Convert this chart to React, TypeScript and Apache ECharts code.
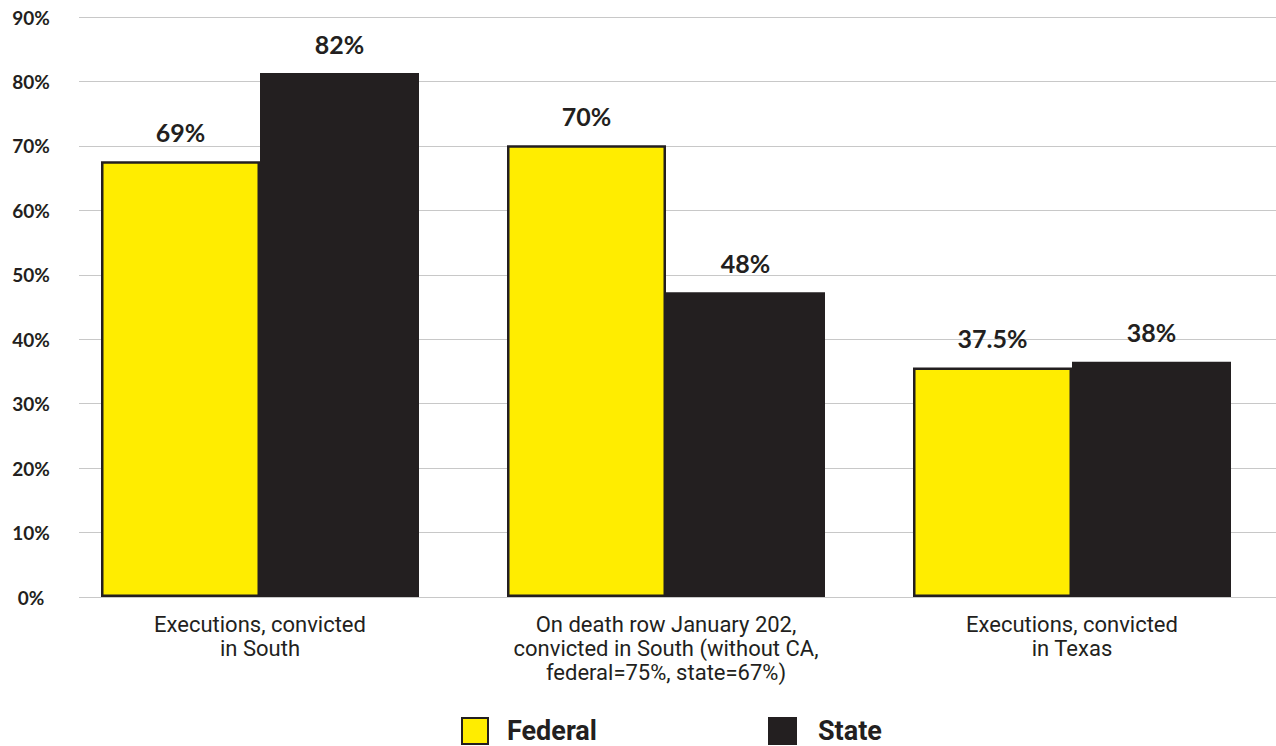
import React, { useEffect, useRef } from "react";
import * as echarts from "echarts";

const categories = [
  "Executions, convicted\nin South",
  "On death row January 202,\nconvicted in South (without CA,\nfederal=75%, state=67%)",
  "Executions, convicted\nin Texas",
];
const federalValues = [67.6, 70.1, 35.6];
const stateValues = [81.3, 47.3, 36.5];
const federalLabels = ["69%", "70%", "37.5%"];
const stateLabels = ["82%", "48%", "38%"];
const yTicks = [0, 10, 20, 30, 40, 50, 60, 70, 80, 90];

const DARK = "#231f20";
const YELLOW = "#ffed00";

export default function App() {
  const ref = useRef<HTMLDivElement>(null);
  useEffect(() => {
    document.body.style.margin = "0";
    const chart = echarts.init(ref.current!, null, { renderer: "svg" });
    const valueLabel = (labels: string[]) => ({
      show: true,
      position: "top",
      distance: 17,
      formatter: (p: any) => labels[p.dataIndex],
      fontFamily: "Lato",
      fontWeight: "bold",
      fontSize: 25,
      color: DARK,
    });
    chart.setOption({
      animation: false,
      backgroundColor: "#ffffff",
      grid: [
        { left: 57, right: 1, top: 17, bottom: 149 },
        { left: 79, right: 0, top: 17, bottom: 149 },
      ],
      xAxis: [
        {
          type: "category",
          gridIndex: 0,
          data: categories,
          axisLine: { show: false },
          axisTick: { show: false },
          axisLabel: {
            margin: 15,
            fontFamily: "Roboto",
            fontSize: 22,
            lineHeight: 24,
            color: DARK,
            interval: 0,
          },
        },
        {
          type: "category",
          gridIndex: 1,
          data: categories,
          show: false,
        },
      ],
      yAxis: [
        {
          type: "value",
          gridIndex: 0,
          min: 0,
          max: 90,
          interval: 10,
          show: false,
          splitLine: { show: false },
        },
        {
          type: "value",
          gridIndex: 1,
          min: yTicks[0],
          max: yTicks[yTicks.length - 1],
          interval: 10,
          axisLine: { show: false },
          axisTick: { show: false },
          splitLine: { lineStyle: { color: "#c8c8c8", width: 1 } },
          axisLabel: {
            formatter: (v: number) => `${v}%`,
            align: "center",
            margin: 48,
            padding: [0, 0, 7, 0],
            fontFamily: "Lato",
            fontWeight: "bold",
            fontSize: 19,
            color: DARK,
          },
        },
      ],
      legend: [
        {
          data: ["Federal"],
          left: 456,
          top: 712,
          icon: "rect",
          itemWidth: 26,
          itemHeight: 26,
          textStyle: {
            fontFamily: "Roboto",
            fontWeight: "bold",
            fontSize: 27,
            color: DARK,
            padding: [0, 0, 0, 14],
          },
        },
        {
          data: ["State"],
          left: 763,
          top: 712,
          icon: "rect",
          itemWidth: 29,
          itemHeight: 28,
          textStyle: {
            fontFamily: "Roboto",
            fontWeight: "bold",
            fontSize: 27,
            color: DARK,
            padding: [0, 0, 0, 16],
          },
        },
      ],
      series: [
        {
          name: "Federal",
          type: "bar",
          xAxisIndex: 0,
          yAxisIndex: 0,
          data: federalValues,
          barWidth: 159,
          barGap: "0%",
          itemStyle: { color: YELLOW, borderColor: DARK, borderWidth: 2.5 },
          label: valueLabel(federalLabels),
        },
        {
          name: "State",
          type: "bar",
          xAxisIndex: 0,
          yAxisIndex: 0,
          data: stateValues,
          barWidth: 159,
          barGap: "0%",
          itemStyle: { color: DARK },
          label: valueLabel(stateLabels),
        },
      ],
    });
    return () => chart.dispose();
  }, []);
  return (
    <div
      ref={ref}
      style={{ position: "fixed", left: 0, top: 0, width: 1276, height: 746 }}
    />
  );
}
